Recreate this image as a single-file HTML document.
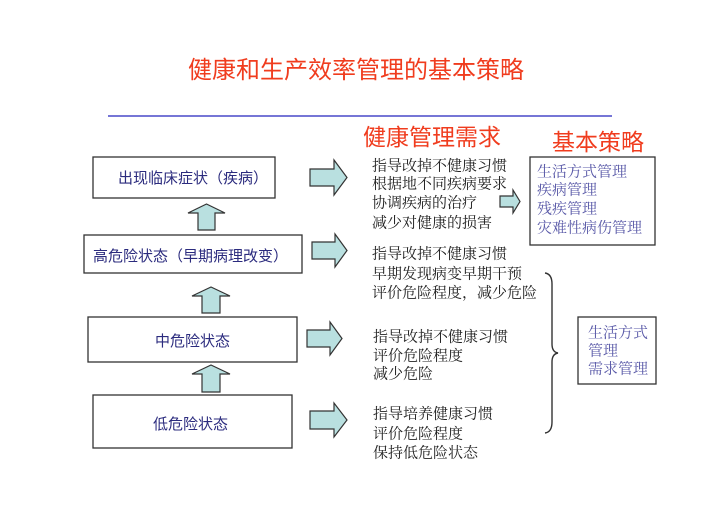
<!DOCTYPE html>
<html><head><meta charset="utf-8">
<style>
html,body{margin:0;padding:0;background:#fff;}
body{width:720px;height:509px;overflow:hidden;}
svg{display:block;}
.t{font-family:"Liberation Sans","Noto Sans CJK SC",sans-serif;fill:#f03c1e;}
.lbl{font-family:"Liberation Sans","Noto Sans CJK SC",sans-serif;fill:#2b2b7e;font-size:15px;}
.bd{font-family:"Liberation Serif","Noto Serif CJK SC",serif;fill:#222;font-size:15px;}
.bl{font-family:"Liberation Serif","Noto Serif CJK SC",serif;fill:#5a5aa8;font-size:15px;}
.box{fill:#fff;stroke:#333;stroke-width:1.3;}
.ar{fill:#b9e0e0;stroke:#333;stroke-width:1.2;stroke-linejoin:miter;}
</style></head>
<body>
<svg width="720" height="509" viewBox="0 0 720 509" xmlns="http://www.w3.org/2000/svg">
<!-- title -->
<text class="t" x="188" y="78" font-size="24">健康和生产效率管理的基本策略</text>
<line x1="108" y1="116" x2="612" y2="116" stroke="#4848c8" stroke-width="1.6"/>
<text class="t" x="363" y="145" font-size="23">健康管理需求</text>
<text class="t" x="552" y="150" font-size="23">基本策略</text>

<!-- left boxes -->
<rect class="box" x="93" y="157" width="182" height="41"/>
<text class="lbl" x="118" y="183">出现临床症状（疾病）</text>
<rect class="box" x="84" y="235" width="218" height="38"/>
<text class="lbl" x="93" y="261">高危险状态（早期病理改变）</text>
<rect class="box" x="88" y="317" width="209" height="45"/>
<text class="lbl" x="155" y="346">中危险状态</text>
<rect class="box" x="93" y="395" width="199" height="53"/>
<text class="lbl" x="153" y="429">低危险状态</text>

<!-- up arrows -->
<path class="ar" d="M198,230 L198,213 L188,213 L206.5,204 L225,213 L215,213 L215,230 Z"/>
<path class="ar" d="M202,313 L202,296 L192,296 L211,287 L230,296 L220,296 L220,313 Z"/>
<path class="ar" d="M202,392 L202,374 L192,374 L211,365 L230,374 L220,374 L220,392 Z"/>

<!-- right arrows -->
<path class="ar" d="M310,169 L334,169 L334,160 L347,177.5 L334,195 L334,186 L310,186 Z"/>
<path class="ar" d="M312,242 L335,242 L335,234 L347,250.5 L335,267 L335,259 L312,259 Z"/>
<path class="ar" d="M307,330 L330,330 L330,322 L342,338.5 L330,355 L330,347 L307,347 Z"/>
<path class="ar" d="M310,411 L334,411 L334,403 L347,420 L334,437 L334,429 L310,429 Z"/>
<path class="ar" d="M500,196 L513,196 L513,190 L520,201.5 L513,213 L513,207 L500,207 Z"/>

<!-- body text -->
<text class="bd" x="372" y="170.5">指导改掉不健康习惯</text>
<text class="bd" x="372" y="188.5">根据地不同疾病要求</text>
<text class="bd" x="372" y="207.5">协调疾病的治疗</text>
<text class="bd" x="372" y="227.5">减少对健康的损害</text>

<text class="bd" x="372" y="258.5">指导改掉不健康习惯</text>
<text class="bd" x="372" y="278.5">早期发现病变早期干预</text>
<text class="bd" x="372" y="297.5">评价危险程度，减少危险</text>

<text class="bd" x="373" y="341.5">指导改掉不健康习惯</text>
<text class="bd" x="373" y="360.5">评价危险程度</text>
<text class="bd" x="373" y="378.5">减少危险</text>

<text class="bd" x="373" y="418.5">指导培养健康习惯</text>
<text class="bd" x="373" y="438.5">评价危险程度</text>
<text class="bd" x="373" y="457.5">保持低危险状态</text>

<!-- right box -->
<rect class="box" x="530" y="157" width="125" height="88"/>
<text class="bl" x="537" y="176.5">生活方式管理</text>
<text class="bl" x="537" y="194.5">疾病管理</text>
<text class="bl" x="537" y="213.5">残疾管理</text>
<text class="bl" x="537" y="232.5">灾难性病伤管理</text>

<!-- brace -->
<path d="M545,273 Q552,274 552,284 L552,344 Q552,352 558,353 Q552,354 552,362 L552,422 Q552,432 545,433" fill="none" stroke="#333" stroke-width="1.4"/>

<!-- lower right box -->
<rect class="box" x="578" y="317" width="78" height="67"/>
<text class="bl" x="588" y="337.5">生活方式</text>
<text class="bl" x="588" y="355.5">管理</text>
<text class="bl" x="588" y="373.5">需求管理</text>
</svg>
</body></html>
